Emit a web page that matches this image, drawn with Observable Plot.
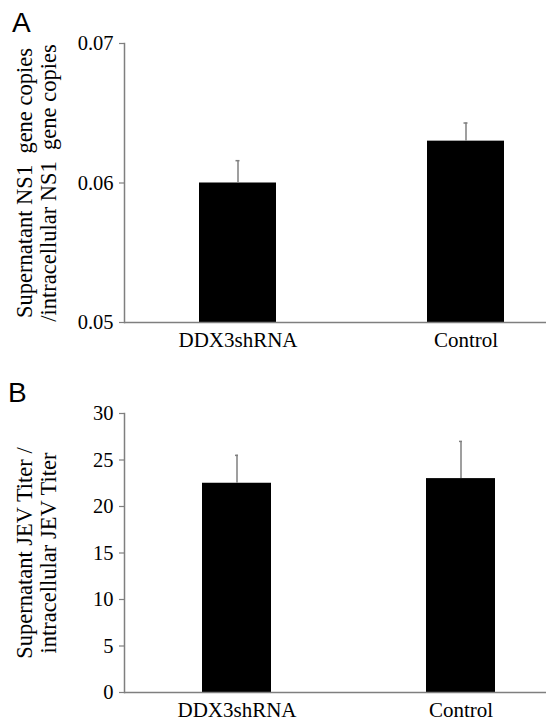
<!DOCTYPE html>
<html><head><meta charset="utf-8">
<script src="https://cdn.jsdelivr.net/npm/d3@7"></script>
<script src="https://cdn.jsdelivr.net/npm/@observablehq/plot@0.6"></script>
<style>
body{margin:0;background:#fff}
#wrap{position:relative;width:546px;height:721px}
.panel{position:absolute;font-family:"Liberation Sans",Arial,sans-serif;font-size:28px;line-height:1;color:#000}
svg{display:block}
svg text{white-space:pre;font-family:"Liberation Serif","DejaVu Serif",serif}
</style></head><body><div id="wrap"></div>
<script>
const categories = ["DDX3shRNA", "Control"];
const nsRatio = [0.0600, 0.0630];
const nsError = [0.0016, 0.0013];
const titerRatio = [22.5, 23.0];
const titerError = [3.0, 4.0];
const ticksA = [0.05, 0.06, 0.07];
const ticksB = [0, 5, 10, 15, 20, 25, 30];
const titleA = "Supernatant NS1  gene copies\n/intracellular NS1  gene copies";
const titleB = "Supernatant JEV Titer /\nintracellular JEV Titer";
const panelLetters = ["A", "B"];

const gray = "#7f7f7f";
const serif = "Liberation Serif";

function makePanel(values, errors, ticks, title, cfg) {
  const base = ticks[0];
  const data = categories.map((c, i) => ({cat: c, v: values[i], e: errors[i], base}));
  const svg = Plot.plot({
    width: 546, height: cfg.height,
    marginTop: cfg.marginTop, marginBottom: cfg.marginBottom, marginLeft: 124, marginRight: 0,
    style: {fontFamily: serif, fontSize: "20px", color: "#000", background: "#fff", display: "block"},
    x: {domain: categories, range: cfg.xRange, paddingInner: cfg.pi, paddingOuter: cfg.po, align: 0.5},
    y: {domain: [ticks[0], ticks[ticks.length - 1]]},
    marks: [
      Plot.barY(data, {x: "cat", y1: "base", y2: "v", fill: "#000"}),
      Plot.ruleX(data, {x: "cat", y1: "v", y2: d => d.v + d.e, stroke: gray, strokeWidth: 1.5}),
      Plot.tickY(data, {x: "cat", y: d => d.v + d.e, stroke: gray, strokeWidth: 1.5, insetLeft: cfg.capInset, insetRight: cfg.capInset}),
      Plot.ruleY([base], {stroke: gray, strokeWidth: 1.5}),
      Plot.frame({anchor: "left", stroke: gray, strokeWidth: 1.5}),
      Plot.axisY({ticks, tickFormat: cfg.fmt, tickSize: 5, tickPadding: 6, stroke: gray, strokeWidth: 1.2, fill: "#000", label: null, fontSize: 20.5}),
      Plot.axisX({tickSize: 0, tickPadding: 10, label: null, fontSize: 21, fill: "#000"}),
      Plot.text([title], {text: d => d, frameAnchor: "left", textAnchor: "middle", lineAnchor: "middle", rotate: -90, dx: -88.5, fontSize: 22.5, lineHeight: 1.11, fill: "#000"})
    ]
  });
  d3.select(svg).attr("font-family", serif).selectAll("text").style("font-family", serif);
  return svg;
}

const wrap = document.getElementById("wrap");
const a = makePanel(nsRatio, nsError, ticksA, titleA, {
  height: 360, marginTop: 43, marginBottom: 38, xRange: [124, 579], pi: 0.664, po: 0.328,
  capInset: 36.5, fmt: d3.format(".2f")
});
const b = makePanel(titerRatio, titerError, ticksB, titleB, {
  height: 361, marginTop: 53, marginBottom: 29, xRange: [124, 573.4], pi: 0.69, po: 0.344,
  capInset: 33, fmt: d3.format("d")
});
wrap.appendChild(a);
wrap.appendChild(b);

const pos = [{left: 12, top: 9}, {left: 8, top: 379}];
panelLetters.forEach((t, i) => {
  const d = document.createElement("div");
  d.className = "panel";
  d.textContent = t;
  d.style.left = pos[i].left + "px";
  d.style.top = pos[i].top + "px";
  wrap.appendChild(d);
});
</script></body></html>
